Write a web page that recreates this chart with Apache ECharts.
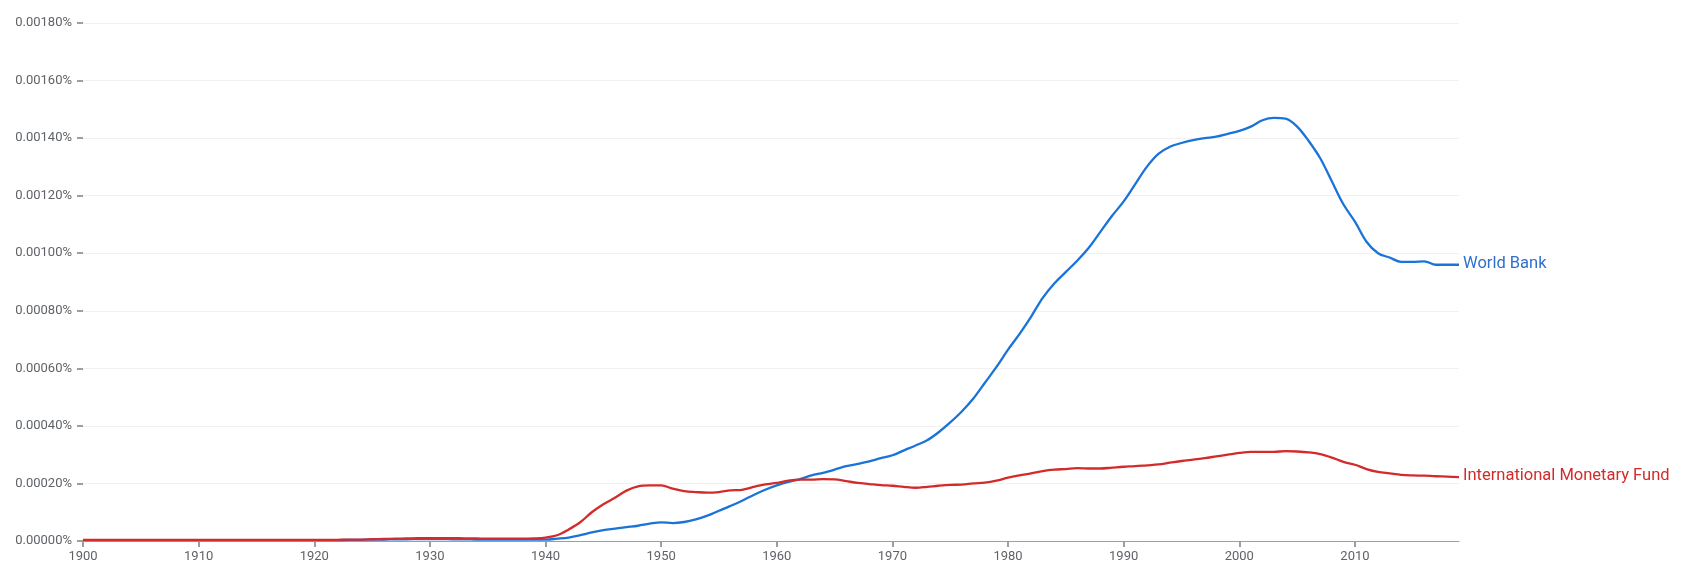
<!DOCTYPE html>
<html>
<head>
<meta charset="utf-8">
<script src="https://cdn.jsdelivr.net/npm/echarts@6/dist/echarts.min.js"></script>
<style>
html,body{margin:0;padding:0;background:#fff;}
#chart{width:1705px;height:575px;}
</style>
</head>
<body>
<div id="chart"></div>
<script>
// Years 1900..2019
const startYear = 1900;
const endYear = 2019;
const xTickLabels = [1900,1910,1920,1930,1940,1950,1960,1970,1980,1990,2000,2010];
const yTickValues = [0,0.0002,0.0004,0.0006,0.0008,0.001,0.0012,0.0014,0.0016,0.0018];

const seriesNames = ["World Bank", "International Monetary Fund"];

// World Bank (% of ngrams), 1900..2019
const worldBank = [
  // 1900-1909
  0.000003,0.000003,0.000003,0.000003,0.000003,0.000003,0.000003,0.000003,0.000003,0.000003,
  // 1910-1919
  0.000003,0.000003,0.000003,0.000003,0.000003,0.000003,0.000003,0.000003,0.000003,0.000003,
  // 1920-1929
  0.000003,0.000003,0.000003,0.000004,0.000004,0.000005,0.000005,0.000006,0.000006,0.000007,
  // 1930-1939
  0.000007,0.000007,0.000006,0.000006,0.000005,0.000005,0.000005,0.000005,0.000005,0.000005,
  // 1940-1949
  0.000005,0.000008,0.000012,0.00002,0.00003,0.000038,0.000043,0.000048,0.000053,0.00006,
  // 1950-1959
  0.000065,0.000062,0.000066,0.000075,0.000088,0.000105,0.000122,0.00014,0.00016,0.000178,
  // 1960-1969
  0.000193,0.000205,0.000215,0.000228,0.000237,0.000248,0.00026,0.000268,0.000277,0.000288,
  // 1970-1979
  0.000298,0.000315,0.000332,0.00035,0.000378,0.000412,0.00045,0.000495,0.00055,0.000605,
  // 1980-1989
  0.000665,0.00072,0.00078,0.000845,0.000895,0.000935,0.000975,0.00102,0.001075,0.00113,
  // 1990-1999
  0.00118,0.00124,0.0013,0.001345,0.00137,0.001383,0.001393,0.0014,0.001405,0.001415,
  // 2000-2009
  0.001425,0.00144,0.001462,0.00147,0.001468,0.00144,0.00139,0.00133,0.00125,0.00117,
  // 2010-2019
  0.00111,0.00104,0.001,0.000985,0.00097,0.00097,0.000972,0.00096,0.00096,0.00096
];

// International Monetary Fund (% of ngrams), 1900..2019
const imf = [
  // 1900-1909
  0.000004,0.000004,0.000004,0.000004,0.000004,0.000004,0.000004,0.000004,0.000004,0.000004,
  // 1910-1919
  0.000004,0.000004,0.000004,0.000004,0.000004,0.000004,0.000004,0.000004,0.000004,0.000004,
  // 1920-1929
  0.000004,0.000004,0.000004,0.000005,0.000005,0.000006,0.000007,0.000008,0.000009,0.00001,
  // 1930-1939
  0.00001,0.00001,0.00001,0.000009,0.000009,0.000008,0.000008,0.000008,0.000008,0.000009,
  // 1940-1949
  0.000012,0.00002,0.00004,0.000065,0.0001,0.000128,0.00015,0.000175,0.00019,0.000193,
  // 1950-1959
  0.000193,0.000182,0.000173,0.00017,0.000168,0.00017,0.000176,0.000178,0.000188,0.000197,
  // 1960-1969
  0.000202,0.00021,0.000213,0.000213,0.000215,0.000214,0.000208,0.000202,0.000198,0.000194,
  // 1970-1979
  0.000192,0.000188,0.000185,0.000188,0.000192,0.000195,0.000196,0.0002,0.000203,0.00021,
  // 1980-1989
  0.00022,0.000228,0.000235,0.000243,0.000248,0.00025,0.000253,0.000252,0.000252,0.000255,
  // 1990-1999
  0.000258,0.00026,0.000263,0.000266,0.000272,0.000278,0.000283,0.000288,0.000294,0.0003,
  // 2000-2009
  0.000306,0.00031,0.00031,0.00031,0.000312,0.000311,0.000308,0.000302,0.00029,0.000275,
  // 2010-2019
  0.000265,0.00025,0.00024,0.000235,0.00023,0.000228,0.000227,0.000225,0.000224,0.000222
];

const colors = ["#1a73d9", "#d32b2b"];

function toPairs(vals){
  return vals.map((v,i)=>[startYear+i, v]);
}

const chart = echarts.init(document.getElementById('chart'), null, {renderer:'canvas'});
const font = 'Roboto';

chart.setOption({
  animation:false,
  backgroundColor:'#ffffff',
  grid:{left:83, right:246, top:23, bottom:34, containLabel:false},
  xAxis:{
    type:'value',
    min:startYear, max:endYear, interval:10,
    axisLine:{show:true, lineStyle:{color:'#9e9e9e', width:1}},
    axisTick:{show:true, length:6, lineStyle:{color:'#9e9e9e', width:2}, customValues:xTickLabels},
    axisLabel:{color:'#5f6368', fontFamily:font, fontSize:13, margin:9, customValues:xTickLabels,
      formatter:v=>String(v)},
    splitLine:{show:false}
  },
  yAxis:{
    type:'value',
    min:0, max:0.0018, interval:0.0002,
    axisLine:{show:false},
    axisTick:{show:true, length:6, lineStyle:{color:'#9e9e9e', width:2}, customValues:yTickValues},
    axisLabel:{color:'#5f6368', fontFamily:font, fontSize:13, margin:11, customValues:yTickValues,
      formatter:v=>(v*1).toFixed(5)+'%'},
    splitLine:{show:true, lineStyle:{color:'#f1f1f1', width:1}}
  },
  series:[
    {
      name:seriesNames[0], type:'line', data:toPairs(worldBank),
      showSymbol:false, smooth:0.35,
      lineStyle:{color:colors[0], width:2.3},
      itemStyle:{color:colors[0]},
      endLabel:{show:true, formatter:'{a}', color:'#2f6fd0', fontFamily:font, fontSize:16.5, distance:4, offset:[0,-1]}
    },
    {
      name:seriesNames[1], type:'line', data:toPairs(imf),
      showSymbol:false, smooth:0.35,
      lineStyle:{color:colors[1], width:2.3},
      itemStyle:{color:colors[1]},
      endLabel:{show:true, formatter:'{a}', color:'#d32b2b', fontFamily:font, fontSize:16.5, distance:4, offset:[0,-1]}
    }
  ]
});
</script>
</body>
</html>
